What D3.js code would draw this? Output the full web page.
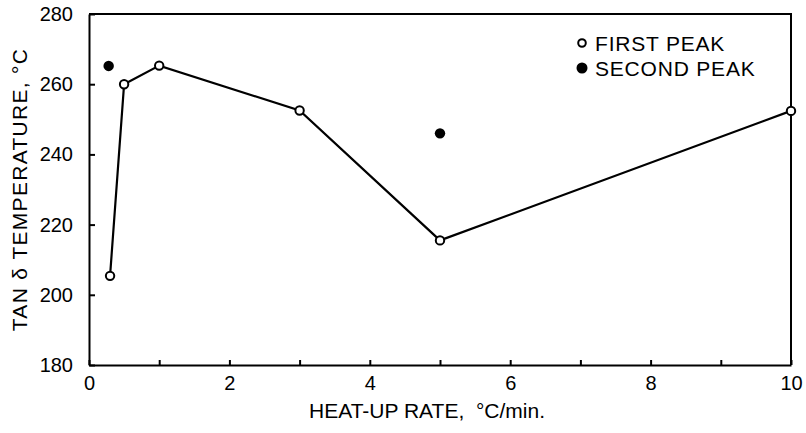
<!DOCTYPE html>
<html lang="en">
<head>
    <meta charset="UTF-8">
    <title>Tan delta temperature vs heat-up rate</title>
    <script src="https://d3js.org/d3.v7.min.js"></script>
    <style>
        body {
            margin: 0;
            background: #fff;
            font-family: "Liberation Sans", Arial, sans-serif;
        }
        .axis path, .axis line {
            stroke: #000;
            stroke-width: 2px;
        }
        .axis text {
            font-family: "Liberation Sans", Arial, sans-serif;
            font-size: 20px;
            fill: #000;
        }
    </style>
</head>
<body>
<script>
    // heat-up rate, degC/min
    var firstRate = [0.3, 0.5, 1, 3, 5, 10];
    var firstTemp = [205.4, 260, 265.3, 252.5, 215.5, 252.4];
    var secondRate = [0.28, 5];
    var secondTemp = [265.2, 246];

    var xTicks = [0, 1, 2, 3, 4, 5, 6, 7, 8, 9, 10];
    var yTicks = [180, 200, 220, 240, 260, 280];
    var legendLabels = ['FIRST PEAK', 'SECOND PEAK'];

    var w = 806, h = 433;
    var m = {top: 14, left: 89, right: 15, bottom: 68};

    var firstPeak = firstRate.map(function(d, i){ return {x: d, y: firstTemp[i]}; });
    var secondPeak = secondRate.map(function(d, i){ return {x: d, y: secondTemp[i]}; });

    var xScale = d3.scaleLinear()
                   .domain([0, 10])
                   .range([m.left, w - m.right]);
    var yScale = d3.scaleLinear()
                   .domain([180, 280])
                   .range([h - m.bottom, m.top]);

    var svg = d3.select('body')
                .append('svg')
                .attr('width', w)
                .attr('height', h);

    // ticks point inward, labels only on even rates
    var xAxis = d3.axisBottom(xScale)
                  .tickValues(xTicks)
                  .tickSizeInner(-5)
                  .tickSizeOuter(0)
                  .tickPadding(11)
                  .tickFormat(function(d){ return d % 2 === 0 ? d : ''; });
    var yAxis = d3.axisLeft(yScale)
                  .tickValues(yTicks)
                  .tickSizeInner(-6)
                  .tickSizeOuter(0)
                  .tickPadding(16);

    svg.append('g')
       .attr('class', 'axis')
       .attr('transform', 'translate(0,' + (h - m.bottom) + ')')
       .call(xAxis);
    svg.append('g')
       .attr('class', 'axis')
       .attr('transform', 'translate(' + m.left + ',0)')
       .call(yAxis);

    // top and right frame
    svg.append('path')
       .attr('d', 'M' + xScale(0) + ',' + yScale(280) + 'H' + xScale(10) + 'V' + yScale(180))
       .attr('fill', 'none')
       .attr('stroke', '#000')
       .attr('stroke-width', 2);

    var line = d3.line()
                 .x(function(d){ return xScale(d.x); })
                 .y(function(d){ return yScale(d.y); });

    svg.append('path')
       .datum(firstPeak)
       .attr('d', line)
       .attr('fill', 'none')
       .attr('stroke', '#000')
       .attr('stroke-width', 2.2);

    svg.append('g').selectAll('circle')
       .data(firstPeak)
       .enter()
       .append('circle')
       .attr('cx', function(d){ return xScale(d.x); })
       .attr('cy', function(d){ return yScale(d.y); })
       .attr('r', 4.2)
       .attr('fill', '#fff')
       .attr('stroke', '#000')
       .attr('stroke-width', 2);

    svg.append('g').selectAll('circle')
       .data(secondPeak)
       .enter()
       .append('circle')
       .attr('cx', function(d){ return xScale(d.x); })
       .attr('cy', function(d){ return yScale(d.y); })
       .attr('r', 5.2)
       .attr('fill', '#000');

    // legend
    var legend = svg.append('g').attr('transform', 'translate(582,43)');
    legend.append('circle')
          .attr('cx', 0).attr('cy', 0).attr('r', 3.8)
          .attr('fill', '#fff').attr('stroke', '#000').attr('stroke-width', 2);
    legend.append('circle')
          .attr('cx', 0).attr('cy', 25).attr('r', 5.5)
          .attr('fill', '#000');
    legend.selectAll('text')
          .data(legendLabels)
          .enter()
          .append('text')
          .attr('x', 13)
          .attr('y', function(d, i){ return i * 25 + 7.5; })
          .attr('font-size', '21px')
          .attr('letter-spacing', '0.8px')
          .text(function(d){ return d; });

    // axis titles
    svg.append('text')
       .attr('x', 427)
       .attr('y', 418)
       .attr('text-anchor', 'middle')
       .attr('font-size', '21px')
       .text('HEAT-UP RATE,  °C/min.')
       .style('white-space', 'pre');

    svg.append('text')
       .attr('transform', 'translate(27,' + ((yScale(180) + yScale(280)) / 2) + ') rotate(-90)')
       .attr('text-anchor', 'middle')
       .attr('font-size', '21px')
       .attr('letter-spacing', '1.3px')
       .text('TAN δ TEMPERATURE, °C');
</script>
</body>
</html>
